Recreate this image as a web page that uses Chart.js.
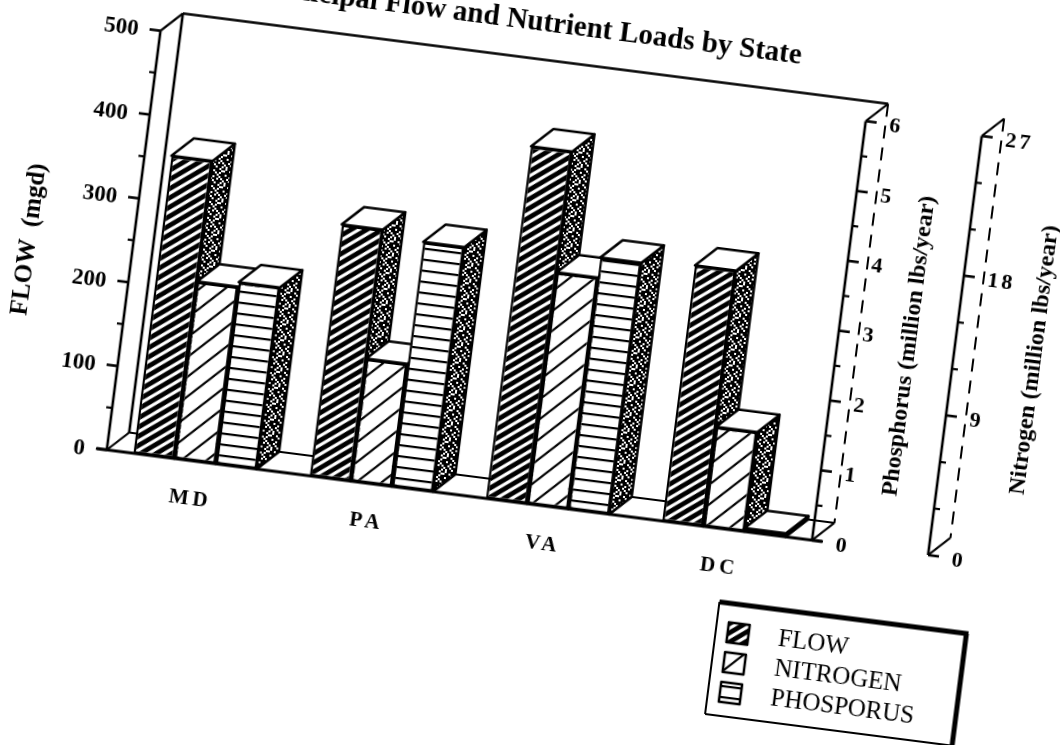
<!DOCTYPE html>
<html lang="en">
  <head>
    <meta charset="UTF-8" />
    <title>Municipal Flow and Nutrient Loads by State</title>
    <script src="https://cdn.jsdelivr.net/npm/chart.js"></script>
    <style>
      html, body { margin: 0; height: 100%; overflow: hidden; background: #fff; }
      /* the scanned page sits crooked, so the whole chart is turned */
      #page { position: absolute; left: -120px; top: -127.5px; width: 1300px; height: 1000px; transform: rotate(7.3deg); }
    </style>
  </head>
  <body>
    <div id="page"><canvas id="chart" width="1300" height="1000"></canvas></div>

    <script>
      const states = ["MD", "PA", "VA", "DC"];
      const flow = [355, 300, 420, 305];
      const nitrogen = [11.4, 7.9, 14.9, 6.4];
      const phosphorus = [2.6, 3.5, 3.6, 0.05];

      const flowLabels = [0, 100, 200, 300, 400, 500];
      const phosphorusLabels = [0, 1, 2, 3, 4, 5, 6];
      const nitrogenLabels = [0, 9, 18, 27];

      const seriesNames = ["FLOW", "NITROGEN", "PHOSPORUS"];
      const titleText = "Municipal Flow and Nutrient Loads by State";

      const serif = "'Liberation Serif', serif";
      const depth = 20;

      function makePattern(w, h, paint) {
        const tile = document.createElement("canvas");
        tile.width = w;
        tile.height = h;
        const c = tile.getContext("2d");
        c.fillStyle = "#fff";
        c.fillRect(0, 0, w, h);
        c.fillStyle = "#000";
        c.strokeStyle = "#000";
        paint(c, w, h);
        return document.createElement("canvas").getContext("2d").createPattern(tile, "repeat");
      }

      function diagonal(width) {
        return (c, w, h) => {
          c.lineWidth = width;
          c.beginPath();
          c.moveTo(-w, h);
          c.lineTo(w, -h);
          c.moveTo(0, h);
          c.lineTo(w, 0);
          c.moveTo(0, 2 * h);
          c.lineTo(2 * w, 0);
          c.stroke();
        };
      }

      const flowFill = makePattern(13, 10, diagonal(4.8));
      const nitrogenFill = makePattern(22, 22, diagonal(2.2));
      const phosphorusFill = makePattern(11, 11, (c, w) => c.fillRect(0, 4, w, 2.2));
      const sideFill = makePattern(16, 16, (c) => {
        const rows = ["10111101", "01101110", "11110101", "10111011", "11101101", "11011010", "01101111", "10110110"];
        rows.forEach((row, y) => {
          [...row].forEach((bit, x) => {
            if (bit === "1") c.fillRect(x * 2, y * 2, 2, 2);
          });
        });
      });
      const fills = [flowFill, nitrogenFill, phosphorusFill];

      function line(ctx, x1, y1, x2, y2, width, dash) {
        ctx.save();
        ctx.strokeStyle = "#000";
        ctx.lineWidth = width;
        ctx.setLineDash(dash || []);
        ctx.beginPath();
        ctx.moveTo(x1, y1);
        ctx.lineTo(x2, y2);
        ctx.stroke();
        ctx.restore();
      }

      function face(ctx, points, fill) {
        ctx.save();
        ctx.beginPath();
        points.forEach((p, i) => (i ? ctx.lineTo(p[0], p[1]) : ctx.moveTo(p[0], p[1])));
        ctx.closePath();
        ctx.fillStyle = fill;
        ctx.fill();
        ctx.strokeStyle = "#000";
        ctx.lineWidth = 2.5;
        ctx.lineJoin = "round";
        ctx.stroke();
        ctx.restore();
      }

      function label(ctx, text, x, y, font, align, spacing) {
        ctx.save();
        ctx.font = font;
        ctx.letterSpacing = spacing || "0px";
        ctx.fillStyle = "#000";
        ctx.textAlign = align;
        ctx.textBaseline = "middle";
        ctx.fillText(text, x, y);
        ctx.restore();
      }

      function sideways(ctx, text, x, y, size) {
        ctx.save();
        ctx.translate(x, y);
        ctx.rotate(-Math.PI / 2);
        label(ctx, text, 0, 0, `bold ${size}px ${serif}`, "center");
        ctx.restore();
      }

      function drawTicks(ctx, scale, labels, x, dir, size, spacing) {
        scale.ticks.forEach((t) => {
          const y = scale.getPixelForValue(t.value);
          const major = labels.includes(t.value);
          line(ctx, x, y, x + dir * (major ? 11 : 6), y, major ? 2.6 : 2.2);
          if (major) {
            const lx = x + dir * (dir < 0 ? 22 : 24);
            label(ctx, String(t.value), lx, y + 2, `bold ${size}px ${serif}`, dir < 0 ? "right" : "left", spacing);
          }
        });
      }

      // side axis with its dashed back edge, used for both right hand scales
      function rightAxis(ctx, x, top, bottom) {
        line(ctx, x, top, x, bottom, 2.6);
        line(ctx, x, top, x + depth, top - depth, 2.2);
        line(ctx, x, bottom, x + depth, bottom - depth, 2.2);
        line(ctx, x + depth, top - depth, x + depth, bottom - depth, 2, [13, 9]);
      }

      const box3d = {
        id: "box3d",
        beforeDatasetsDraw(chart) {
          const ctx = chart.ctx;
          const { left: L, right: R, top: T, bottom: B } = chart.chartArea;

          line(ctx, L, B, L + depth, B - depth, 2);
          line(ctx, L + depth, B - depth, L + depth, T - depth, 2.6);
          line(ctx, L + depth, T - depth, R + depth, T - depth, 2.6);
          line(ctx, L, T, L + depth, T - depth, 2.4);
          line(ctx, L + depth, B - depth, R + depth, B - depth, 2.2);
          line(ctx, L, T, L, B, 2.6);
          rightAxis(ctx, R, T, B);
          rightAxis(ctx, chart.scales.yN.left, T, B);

          drawTicks(ctx, chart.scales.y, flowLabels, L, -1, 23);
          drawTicks(ctx, chart.scales.yP, phosphorusLabels, R, 1, 22);
          drawTicks(ctx, chart.scales.yN, nitrogenLabels, chart.scales.yN.left, 1, 22, "3px");

          // left to right so every bar hides the side of the one before it
          chart.getSortedVisibleDatasetMetas().forEach((meta) => {
            meta.controller.draw();
            meta.data.forEach((bar) => {
              const { x, y, base, width } = bar.getProps(["x", "y", "base", "width"], true);
              const a = x - width / 2;
              const b = x + width / 2;
              face(ctx, [[b, y], [b + depth, y - depth], [b + depth, base - depth], [b, base]], sideFill);
              face(ctx, [[a, y], [a + depth, y - depth], [b + depth, y - depth], [b, y]], "#fff");
            });
          });

          line(ctx, L - 10, B, R + 10, B, 3);
          return false;
        },
        afterDraw(chart) {
          const ctx = chart.ctx;
          const xScale = chart.scales.x;
          states.forEach((s, i) => {
            label(ctx, s, xScale.getPixelForValue(i), chart.chartArea.bottom + 39, `bold 21px ${serif}`, "center", "4px");
          });

          sideways(ctx, "FLOW  (mgd)", 137, 431, 25);
          sideways(ctx, "Phosphorus (million lbs/year)", 1023, 425, 24);
          sideways(ctx, "Nitrogen (million lbs/year)", 1149, 423, 24);

          // legend box, heavy on the top and right like the plotter drew it
          const x1 = 867, x2 = 1116, y1 = 703, y2 = 816;
          line(ctx, x1, y1, x2 + 2, y1, 5);
          line(ctx, x2, y1, x2, y2, 5);
          line(ctx, x1, y1, x1, y2, 2);
          line(ctx, x1, y2, x2, y2, 2);
          seriesNames.forEach((name, i) => {
            const y = 732 + i * 30;
            face(ctx, [[879, y - 10], [900, y - 10], [900, y + 10], [879, y + 10]], fills[i]);
            label(ctx, name, 930, y, `25px ${serif}`, "left");
          });
        },
      };

      function valueAxis(position, max, step, width) {
        return {
          type: "linear",
          position,
          min: 0,
          max,
          grid: { display: false, drawTicks: false },
          border: { display: false },
          afterFit: (scale) => { scale.width = width; },
          ticks: { stepSize: step, autoSkip: false, display: false },
        };
      }

      new Chart(document.getElementById("chart"), {
        type: "bar",
        data: {
          labels: states,
          datasets: [
            { label: seriesNames[0], data: flow, yAxisID: "y", backgroundColor: flowFill },
            { label: seriesNames[1], data: nitrogen, yAxisID: "yN", backgroundColor: nitrogenFill },
            { label: seriesNames[2], data: phosphorus, yAxisID: "yP", backgroundColor: phosphorusFill },
          ],
        },
        plugins: [box3d],
        options: {
          responsive: false,
          animation: false,
          categoryPercentage: 0.7,
          barPercentage: 1,
          borderColor: "#000",
          borderWidth: 2.5,
          borderSkipped: false,
          layout: { padding: { top: 134, right: 96 } },
          plugins: {
            legend: { display: false },
            tooltip: { enabled: false },
            title: {
              display: true,
              text: titleText,
              color: "#000",
              padding: { top: 0, bottom: 38.7 },
              font: { family: serif, size: 29, weight: "bold" },
            },
          },
          scales: {
            x: {
              grid: { display: false, drawTicks: false },
              border: { display: false },
              afterFit: (scale) => { scale.height = 370; },
              ticks: { display: false },
            },
            y: valueAxis("left", 500, 50, 240),
            yP: valueAxis("right", 6, 0.5, 117),
            yN: valueAxis("right", 27, 3, 136),
          },
        },
      });
    </script>
  </body>
</html>
